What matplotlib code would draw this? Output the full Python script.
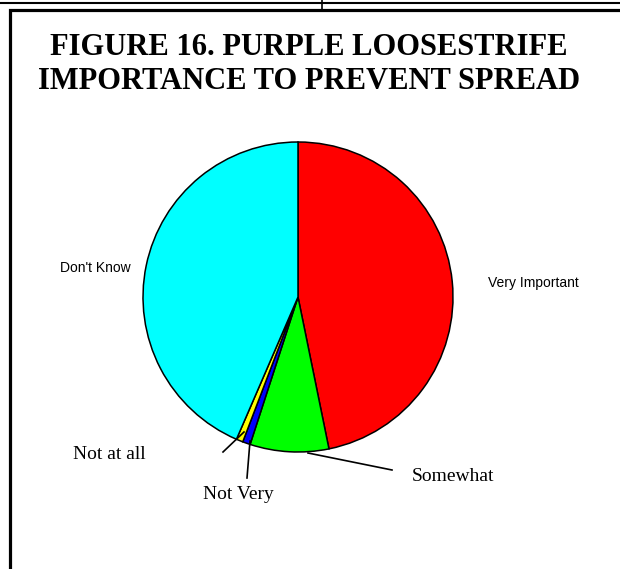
import matplotlib.pyplot as plt

labels = ['Very Important', 'Somewhat', 'Not Very', 'Not at all', "Don't Know"]
values = [46.8, 8.2, 0.8, 0.7, 43.5]
colors = ['#ff0000', '#00ff00', '#0000ff', '#ffff00', '#00ffff']

W, H = 620, 569
fig = plt.figure(figsize=(W / 100, H / 100), dpi=100)
ax = fig.add_axes([0, 0, 1, 1])

# y is inverted, so counterclock in data space runs clockwise on screen
ax.pie(values, colors=colors, startangle=-90, counterclock=True,
       center=(298, 297), radius=155,
       wedgeprops=dict(edgecolor='black', linewidth=1.1))
ax.set_xlim(0, W)
ax.set_ylim(H, 0)
ax.set_aspect('equal')
ax.axis('off')

# frame of the page
ax.plot([0, W], [2.5, 2.5], color='black', lw=1.5, solid_capstyle='butt')
ax.plot([322, 322], [0, 9], color='black', lw=1.2)
ax.plot([9.5, 9.5, W], [H, 9.5, 9.5], color='black', lw=2.3,
        solid_joinstyle='miter')

ax.text(309, 47, 'FIGURE 16. PURPLE LOOSESTRIFE', ha='center', va='center',
        fontsize=22, fontweight='bold', family='Liberation Serif')
ax.text(309, 81, 'IMPORTANCE TO PREVENT SPREAD', ha='center', va='center',
        fontsize=22, fontweight='bold', family='Liberation Serif')

sans = dict(fontsize=10, family='Liberation Sans', va='center')
serif = dict(fontsize=14, family='Liberation Serif', va='center', ha='left')
ax.text(95, 268, labels[4], ha='center', **sans)
ax.text(488, 283, labels[0], ha='left', **sans)
ax.text(412, 476, labels[1], **serif)
ax.text(203, 494, labels[2], **serif)
ax.text(73, 454, labels[3], **serif)

# leader lines
ax.plot([308, 392], [453, 470], color='black', lw=1.2)
ax.plot([250, 247], [441, 478], color='black', lw=1.2)
ax.plot([244, 223], [432, 452], color='black', lw=1.2)

plt.savefig('out.png', dpi=100)
